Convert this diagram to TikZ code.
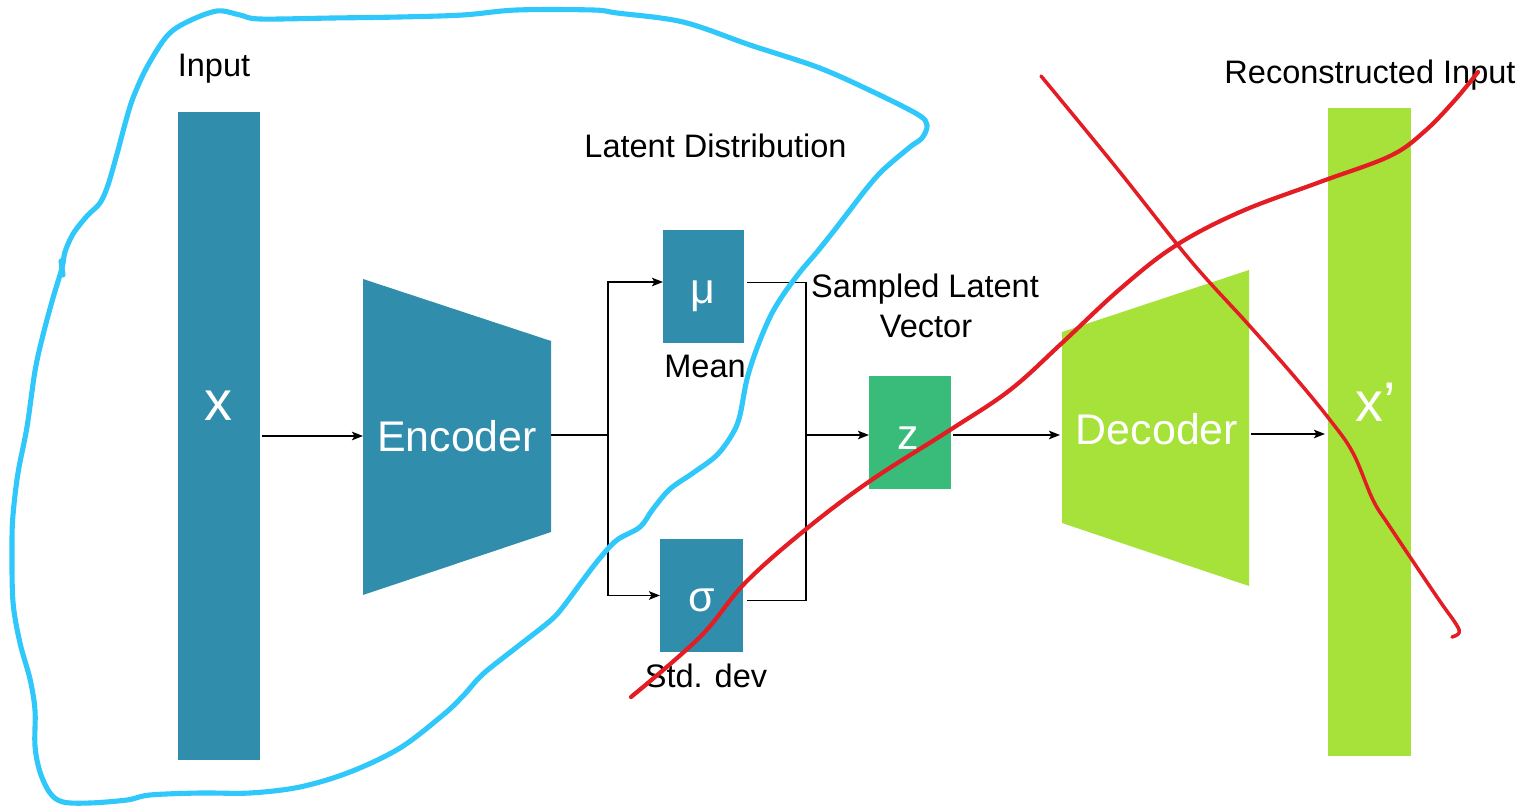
\documentclass[tikz,border=0pt]{standalone}
\usepackage{fontspec}
\setmainfont{Liberation Sans}
\usetikzlibrary{arrows.meta,calc}

\definecolor{encteal}{RGB}{48,141,172}
\definecolor{zgreen}{RGB}{57,187,122}
\definecolor{declime}{RGB}{166,226,58}
\definecolor{penblue}{RGB}{48,200,250}
\definecolor{penred}{RGB}{228,28,36}

\newcommand\lblfont{\fontsize{9.25pt}{11.4pt}\selectfont}
\newcommand\boxfont{\fontsize{12.2pt}{14pt}\selectfont}
\newcommand\bigfont{\fontsize{15.9pt}{18pt}\selectfont}

\tikzset{
  block/.style={rectangle, inner sep=0pt, outer sep=0pt, draw=none},
  lbl/.style={font=\lblfont, anchor=base, inner sep=0pt},
  wlbl/.style={text=white, anchor=base, inner sep=0pt},
  conn/.style={line width=0.55pt, draw=black},
  arr/.style={conn, -{Stealth[length=1.1mm,width=0.85mm,inset=0.25mm]}},
  bluepen/.style={draw=penblue, line width=1.45pt, line cap=round, line join=round},
  redpen/.style={draw=penred, line cap=round, line join=round},
}

\begin{document}
\begin{tikzpicture}[x=0.01cm, y=-0.01cm]
\useasboundingbox (0,0) rectangle (1524,807);

% ---- encoder side ----
\node[block, fill=encteal, minimum width=0.82cm, minimum height=6.48cm] (xin) at (219,436) {};
\fill[encteal] (363,279) -- (551,341) -- (551,532) -- (363,595) -- cycle;
\coordinate (encIn) at (363,436);
\coordinate (encOut) at (551,435);

% ---- latent distribution ----
\node[block, fill=encteal, minimum width=0.81cm, minimum height=1.13cm] (mu) at (703.5,286.5) {};
\node[block, fill=encteal, minimum width=0.83cm, minimum height=1.13cm] (sigma) at (701.5,595.5) {};
\node[block, fill=zgreen, minimum width=0.82cm, minimum height=1.13cm] (z) at (910,432.5) {};

% ---- decoder side ----
\fill[declime] (1062,332) -- (1249,270) -- (1249,586) -- (1062,523) -- cycle;
\coordinate (decIn) at (1062,435);
\coordinate (decOut) at (1249,434);
\node[block, fill=declime, minimum width=0.83cm, minimum height=6.48cm] (xout) at (1369.5,432) {};

% ---- connectors ----
\coordinate (split) at (608,435);
\coordinate (muIn) at ($(mu.west)+(0,-4.5)$);
\coordinate (muOut) at ($(mu.east)+(3,-4)$);
\coordinate (sigmaOut) at ($(sigma.east)+(4,5)$);
\coordinate (join) at (806,435);

\draw[arr, shorten <=0.2mm] (xin.east) -- (encIn);
\draw[conn] (encOut) -- (split);
\draw[arr] (split) |- (muIn);
\draw[arr] (split) |- (sigma.west);
\draw[conn] (muOut) -| (join);
\draw[conn] (sigmaOut) -| (join);
\draw[arr] (join) -- (join -| z.west);
\draw[arr, shorten <=0.2mm, shorten >=0.2mm] (z.east |- join) -- (decIn);
\draw[arr, shorten <=0.2mm, shorten >=0.3mm] (decOut) -- (decOut -| xout.west);

% ---- labels ----
\node[lbl] (inputlbl) at (214,77) {Input};
\node[lbl] (latentlbl) at (715.5,158) {Latent Distribution};
\node[lbl] (meanlbl) at (705,378) {Mean};
\node[lbl] (stdlbl) at (706,688) {Std. dev};
\node[lbl] (samplbl) at (925,298) {Sampled Latent};
\node[lbl] (veclbl) at (926,338) {Vector};
\node[lbl] (reclbl) at (1370,84) {Reconstructed Input};

\node[wlbl, font=\bigfont] (xtext) at (218.5,421) {x};
\node[wlbl, font=\boxfont] (enctext) at (457,452) {Encoder};
\node[wlbl, font=\boxfont] (mutext) at (703,304) {μ};
\node[wlbl, font=\boxfont] (sigmatext) at (702,612) {σ};
\node[wlbl, font=\boxfont] (ztext) at (908,450) {z};
\node[wlbl, font=\boxfont] (dectext) at (1157,445) {Decoder};
\node[wlbl, font=\bigfont] (xptext) at (1376,422) {x’};

% ---- hand-drawn blue loop around the encoder half ----
\draw[bluepen] plot[smooth cycle, tension=0.55] coordinates {
  (147,67) (167,36) (187,22) (217,11) (240,15) (260,19) (333,18) (400,17)
  (463,15) (517,10) (593,10) (617,13) (683,22) (750,45) (817,67) (867,89)
  (917,114) (927,125) (922,138) (910,147) (883,170) (867,188) (850,210)
  (833,232) (817,252) (800,272) (783,295) (770,317) (757,348) (747,379)
  (740,415) (733,433) (717,455) (693,473) (670,489) (653,509) (640,527)
  (617,540) (600,558) (583,580) (563,607) (550,621) (517,647) (483,674)
  (463,696) (443,715) (400,748) (350,772) (300,787) (250,793) (200,793)
  (150,795) (127,800) (90,803) (63,802) (50,793) (40,772) (35,746) (35,710)
  (30,679) (20,643) (13,602) (12,546) (13,515) (18,473) (27,427) (35,371)
  (43,335) (53,298) (62,268) (65,252) (73,234) (87,216) (100,203) (108,185)
  (117,154) (125,124) (133,98)};
\draw[bluepen] (61,261) -- (63,275);

% ---- red strike-through strokes ----
\draw[redpen, line width=1.2pt] plot[smooth, tension=0.6] coordinates {
  (631,697) (700,637) (745,583) (805,530) (870,481) (950,430) (1010,390)
  (1062,343) (1120,289) (1175,246) (1240,212) (1320,182) (1390,156)
  (1425,131) (1455,100) (1478,72)};
\draw[redpen, line width=1.0pt] plot[smooth, tension=0.6] coordinates {
  (1041,76) (1115,166) (1190,260) (1247,323) (1293,375) (1330,420)
  (1353,453) (1373,500) (1390,527) (1437,597) (1456,624) (1459,633) (1452,637)};
\end{tikzpicture}
\end{document}
